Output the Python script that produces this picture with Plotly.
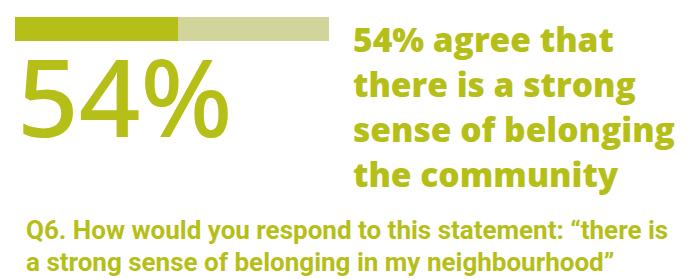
import plotly.graph_objects as go

# ---- data ----
categories = ["Agree", "Other"]
bar_values = [52, 48]          # segment lengths as drawn on the progress bar
agree_pct = 54                 # headline figure
headline_lines = ["54% agree that", "there is a strong", "sense of belonging", "the community"]
question_lines = ["Q6. How would you respond to this statement: \u201cthere is",
                  "a strong sense of belonging in my neighbourhood\u201d"]

DARK = "#b6be18"
LIGHT = "#d1d59b"
W, H = 693, 279

fig = go.Figure()
colors = [DARK, LIGHT]
for cat, val, col in zip(categories, bar_values, colors):
    fig.add_trace(go.Bar(x=[val], y=[0], orientation="h", name=cat,
                         marker=dict(color=col, line=dict(width=0)),
                         width=1, hoverinfo="skip", showlegend=False))

def py(pix):
    return 1 - pix / H

fig.update_layout(
    width=W, height=H, barmode="stack",
    margin=dict(l=0, r=0, t=0, b=0),
    paper_bgcolor="white", plot_bgcolor="white",
    xaxis=dict(domain=[15 / W, 329 / W], range=[0, sum(bar_values)], visible=False, fixedrange=True),
    yaxis=dict(domain=[py(41), py(17)], range=[-0.5, 0.5], visible=False, fixedrange=True),
)

ann = []
# big number
ann.append(dict(text=f"{agree_pct}%", x=15 / W, y=py(95), xref="paper", yref="paper",
                xanchor="left", yanchor="middle", showarrow=False,
                font=dict(family="Noto Sans", size=108, color=DARK, weight=500)))
# headline
for i, line in enumerate(headline_lines):
    base = 50 + 45 * i
    ann.append(dict(text=line, x=351 / W, y=py(base - 11), xref="paper", yref="paper",
                    xanchor="left", yanchor="middle", showarrow=False,
                    font=dict(family="Open Sans", size=33.5, color=DARK, weight=800)))
# question
for i, line in enumerate(question_lines):
    base = 239 + 32 * i
    ann.append(dict(text=line, x=24 / W, y=py(base - 9), xref="paper", yref="paper",
                    xanchor="left", yanchor="middle", showarrow=False,
                    font=dict(family="Roboto", size=26, color=DARK, weight=700)))
fig.update_layout(annotations=ann)

fig.write_html("out.html", config={"displayModeBar": False},
               post_script="document.body.style.margin='0px';")
